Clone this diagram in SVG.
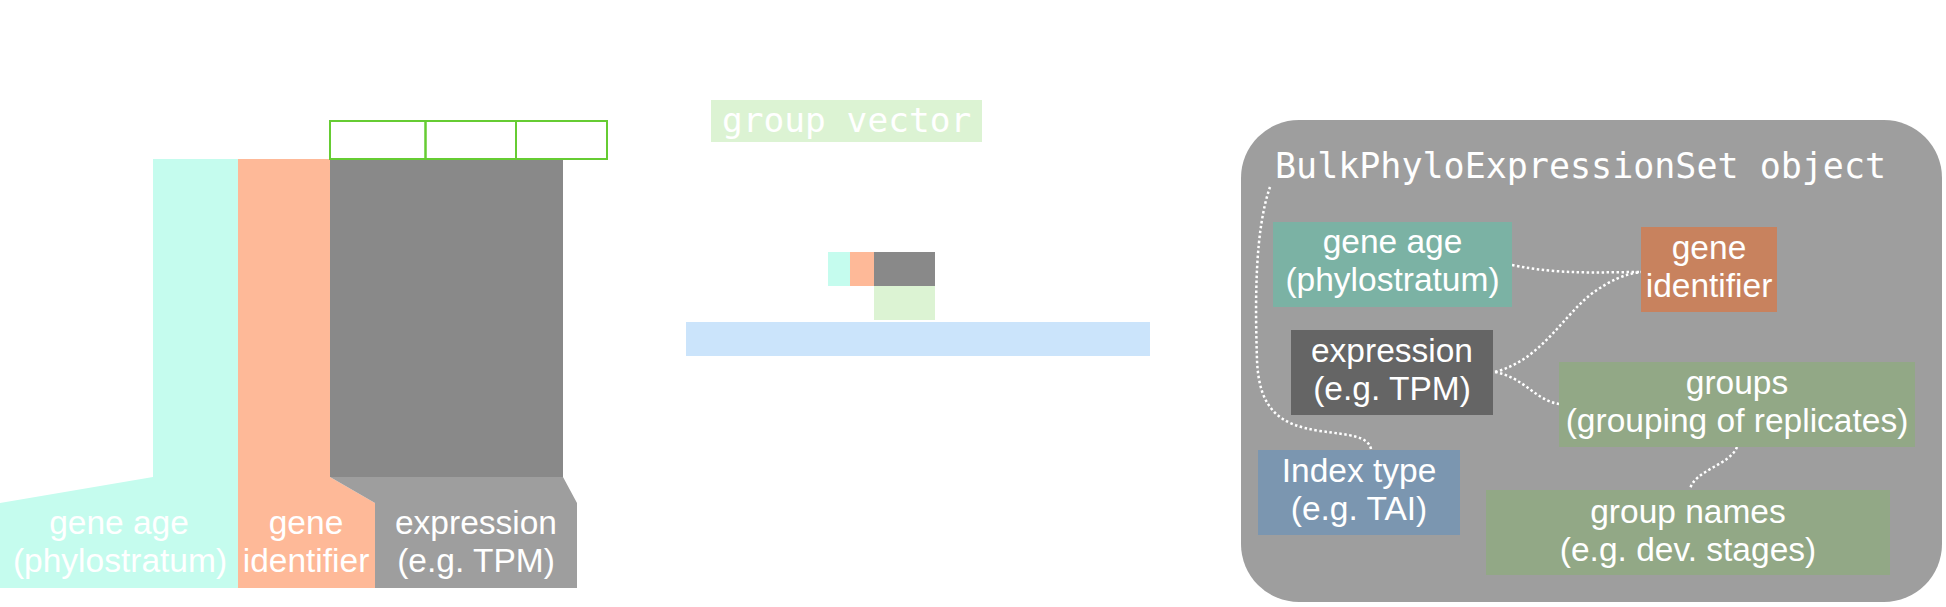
<svg xmlns="http://www.w3.org/2000/svg" width="1946" height="607" viewBox="0 0 1946 607">
<style>
.lbl{font-family:"Liberation Sans",Arial,sans-serif;font-size:33.5px;fill:#ffffff;text-anchor:middle}
.lblL{font-family:"Liberation Sans",Arial,sans-serif;font-size:33.5px;fill:#ffffff;text-anchor:middle}
.mono{font-family:"DejaVu Sans Mono","Liberation Mono",monospace;fill:#ffffff}
.conn{fill:none;stroke:#ffffff;stroke-width:2.5;stroke-dasharray:2.5 2.5}
.gcell{fill:none;stroke:#66cc33;stroke-width:2}
</style>
<rect width="1946" height="607" fill="#ffffff"/>

<g id="matrix">
  <g id="col-age">
    <polygon points="153,159 238,159 238,588 0,588 0,503 153,477" fill="#c5fcee"/>
    <text class="lblL"><tspan x="119" y="534">gene age</tspan><tspan x="120" y="572">(phylostratum)</tspan></text>
  </g>
  <g id="col-id">
    <polygon points="238,159 330,159 330,477 375,503 375,588 238,588" fill="#feb998"/>
    <text class="lblL"><tspan x="306" y="534">gene</tspan><tspan x="306" y="572">identifier</tspan></text>
  </g>
  <g id="col-expr">
    <rect x="330" y="159" width="233" height="318" fill="#898989"/>
    <polygon points="330,477 563,477 577,503 577,588 375,588 375,503" fill="#9e9e9e"/>
    <text class="lblL"><tspan x="476" y="534">expression</tspan><tspan x="476" y="572">(e.g. TPM)</tspan></text>
  </g>
  <g id="group-cells">
    <rect class="gcell" x="330" y="121" width="95.5" height="38"/>
    <rect class="gcell" x="425.5" y="121" width="90.5" height="38"/>
    <rect class="gcell" x="516" y="121" width="91" height="38"/>
  </g>
</g>

<g id="group-vector">
  <rect x="711" y="100" width="271" height="42" fill="#dcf3d3"/>
  <text class="mono" x="722" y="132" font-size="34.5">group vector</text>
</g>

<g id="mini">
  <rect x="828" y="252" width="22" height="34" fill="#c5fcee"/>
  <rect x="850" y="252" width="24" height="34" fill="#feb998"/>
  <rect x="874" y="252" width="61" height="34" fill="#898989"/>
  <rect x="874" y="286" width="61" height="34" fill="#dcf3d3"/>
  <rect x="686" y="322" width="464" height="34" fill="#cbe4fb"/>
</g>

<g id="object">
  <rect x="1241" y="120" width="701" height="482" rx="58" ry="58" fill="#9e9e9e"/>
  <text class="mono" x="1275" y="178" font-size="35">BulkPhyloExpressionSet object</text>
</g>

<g id="connectors">
  <path class="conn" d="M1270,187 C1255,230 1255,300 1257,360 C1259,410 1280,425 1320,431 C1350,435 1368,436 1371,449"/>
  <path class="conn" d="M1512,265 C1560,275 1600,272 1641,272"/>
  <path class="conn" d="M1495,372 C1540,360 1560,320 1590,295 C1610,280 1625,274 1641,272"/>
  <path class="conn" d="M1495,372 C1525,378 1535,400 1559,404"/>
  <path class="conn" d="M1737,447 C1730,465 1695,470 1690,489"/>
</g>

<g id="node-age">
  <rect x="1273" y="222" width="239" height="85" fill="#7bb2a4"/>
  <text class="lbl"><tspan x="1392.5" y="253">gene age</tspan><tspan x="1392.5" y="291">(phylostratum)</tspan></text>
</g>
<g id="node-id">
  <rect x="1641" y="227" width="136" height="85" fill="#c8825e"/>
  <text class="lbl"><tspan x="1709" y="259">gene</tspan><tspan x="1709" y="297">identifier</tspan></text>
</g>
<g id="node-expr">
  <rect x="1291" y="330" width="202" height="85" fill="#656565"/>
  <text class="lbl"><tspan x="1392" y="362">expression</tspan><tspan x="1392" y="400">(e.g. TPM)</tspan></text>
</g>
<g id="node-groups">
  <rect x="1559" y="362" width="356" height="85" fill="#92a886"/>
  <text class="lbl"><tspan x="1737" y="394">groups</tspan><tspan x="1737" y="432">(grouping of replicates)</tspan></text>
</g>
<g id="node-index">
  <rect x="1258" y="450" width="202" height="85" fill="#7b96b0"/>
  <text class="lbl"><tspan x="1359" y="482">Index type</tspan><tspan x="1359" y="520">(e.g. TAI)</tspan></text>
</g>
<g id="node-names">
  <rect x="1486" y="490" width="404" height="85" fill="#92a886"/>
  <text class="lbl"><tspan x="1688" y="523">group names</tspan><tspan x="1688" y="561">(e.g. dev. stages)</tspan></text>
</g>
</svg>
